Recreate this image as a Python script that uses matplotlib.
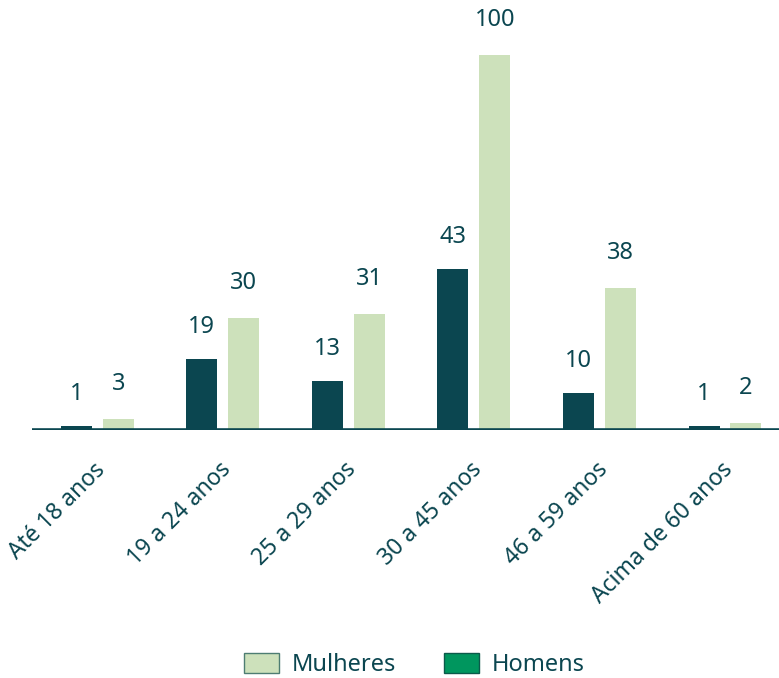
import numpy as np
import matplotlib.pyplot as plt
import matplotlib.transforms as mtransforms
from matplotlib.patches import Patch

plt.rcParams['font.family'] = ['Noto Sans', 'DejaVu Sans']

categorias = ['Até 18 anos', '19 a 24 anos', '25 a 29 anos', '30 a 45 anos',
              '46 a 59 anos', 'Acima de 60 anos']
homens = [1, 19, 13, 43, 10, 1]
mulheres = [3, 30, 31, 100, 38, 2]

cor_texto = '#0b4650'
cor_homens = '#0b4650'
cor_mulheres = '#cde1bb'
cor_legenda_homens = '#00965e'

fig = plt.figure(figsize=(7.79, 6.78), dpi=100)
ax = fig.add_axes([32 / 779, 248 / 678, 1 - 32 / 779, 430 / 678])

x = np.arange(len(categorias))
w = 0.247
off = 0.167

ax.bar(x - off, homens, w, color=cor_homens)
ax.bar(x + off, mulheres, w, color=cor_mulheres)

# rótulos acima das barras
for xi, v in zip(x - off, homens):
    ax.annotate(str(v), (xi, v), xytext=(0, 23), textcoords='offset points',
                ha='center', va='center', fontsize=17, color=cor_texto)
for xi, v in zip(x + off, mulheres):
    ax.annotate(str(v), (xi, v), xytext=(0, 25), textcoords='offset points',
                ha='center', va='center', fontsize=17, color=cor_texto)

ax.set_xlim(-0.52, 5.43)
ax.set_ylim(0, 114.7)
ax.axhline(0, color=cor_texto, lw=2.6, zorder=3)

ax.set_xticks(x)
ax.set_xticklabels(categorias, rotation=45, ha='right', rotation_mode='anchor',
                   fontsize=16.5, color=cor_texto)
ax.tick_params(axis='x', length=0, pad=20)
desloc = mtransforms.ScaledTranslation(-4 / 100, 0, fig.dpi_scale_trans)
for lbl in ax.get_xticklabels():
    lbl.set_transform(lbl.get_transform() + desloc)
ax.set_yticks([])
for s in ax.spines.values():
    s.set_visible(False)

handles = [Patch(facecolor=cor_mulheres, edgecolor='#4d7d72', label='Mulheres'),
           Patch(facecolor=cor_legenda_homens, edgecolor='#0b5a4a', label='Homens')]
fig.legend(handles=handles, loc='center', bbox_to_anchor=(0.532, 1 - 665 / 678),
           ncol=2, frameon=False, fontsize=17, labelcolor=cor_texto,
           handlelength=1.5, handleheight=0.95, columnspacing=2.0, handletextpad=0.55,
           borderpad=0.2)

fig.savefig('out.png', dpi=100)
